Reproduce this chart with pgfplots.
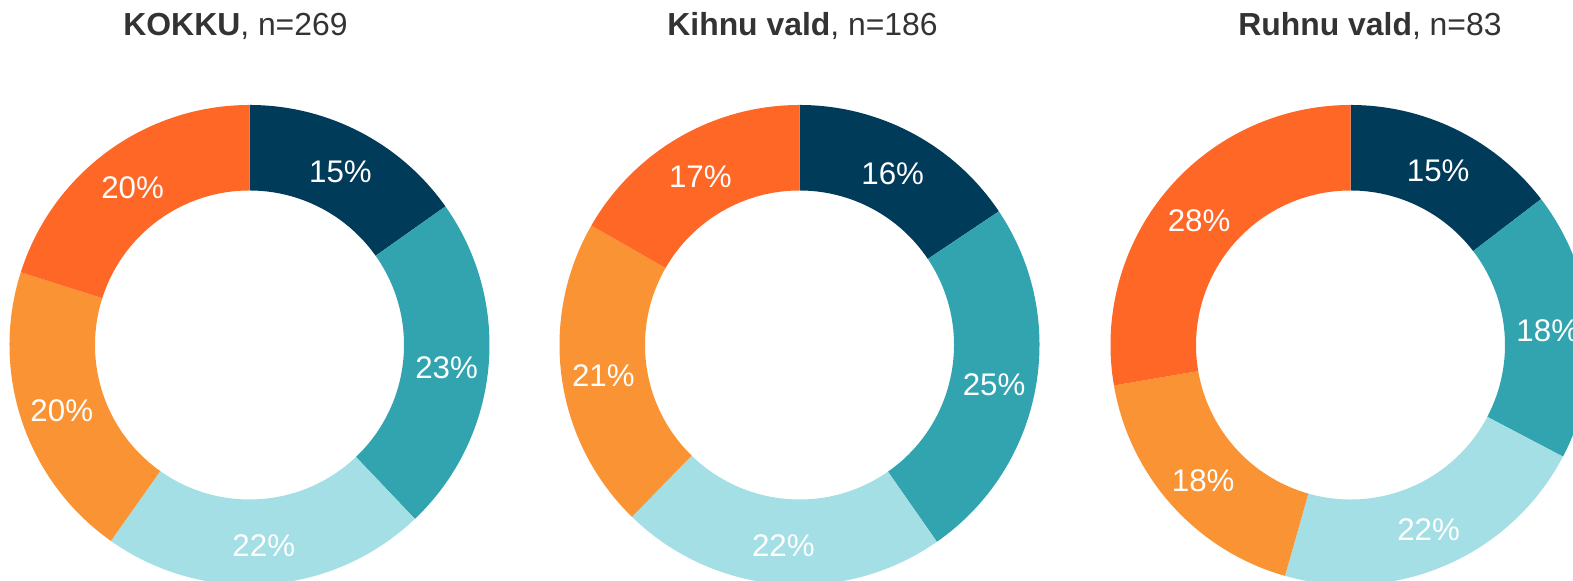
\documentclass[border=0pt]{standalone}
\usepackage{pgfplots}
\pgfplotsset{compat=1.18}
\usepackage{pgfplotstable}
\usepackage{fontspec}
\setmainfont{Liberation Sans}
\definecolor{seg0}{HTML}{003B5A}
\definecolor{seg1}{HTML}{32A4AF}
\definecolor{seg2}{HTML}{A4DFE6}
\definecolor{seg3}{HTML}{FA9334}
\definecolor{seg4}{HTML}{FF6727}
\definecolor{titlecol}{HTML}{333333}

\pgfplotstableread{
seg kokku kihnu ruhnu
0   15.2  15.6  14.6
1   22.7  24.7  18.1
2   21.9  22.0  21.7
3   20.1  21.0  17.9
4   20.1  16.7  27.7
}\data

\newcommand\donutcmds{}
\newcommand\donutlabels{}
\newcommand\makedonut[3]{%
  \def\cum{0}%
  \pgfplotsforeachungrouped \i in {0,...,4}{%
    \pgfplotstablegetelem{\i}{#1}\of\data
    \let\val\pgfplotsretval
    \pgfmathsetmacro\aone{90-3.6*\cum}%
    \pgfmathsetmacro\newcum{\cum+\val}%
    \pgfmathsetmacro\atwo{90-3.6*\newcum}%
    \pgfmathsetmacro\amid{(\aone+\atwo)/2}%
    \pgfmathtruncatemacro\pct{round(\val)}%
    \let\cum\newcum
    \edef\colname{seg\i}%
    \xdef\donutcmds{\unexpanded\expandafter{\donutcmds}%
      \noexpand\fill[\colname] (axis cs:#2,#3) ++(\aone:120bp) arc[start angle=\aone,end angle=\atwo,radius=120bp] -- ++(\atwo:-42.75bp) arc[start angle=\atwo,end angle=\aone,radius=77.25bp] -- cycle;}%
    \xdef\donutlabels{\unexpanded\expandafter{\donutlabels}%
      \noexpand\path (axis cs:#2,#3) ++(\amid:99bp) node[text=white,inner sep=0pt,yshift=-1.5bp,font=\noexpand\fontsize{15.7}{18}\noexpand\selectfont] {\pct\noexpand\%};}%
  }%
}
\makedonut{kokku}{249.5}{-345}
\makedonut{kihnu}{799.5}{-345}
\makedonut{ruhnu}{1350.5}{-345}

\begin{document}
\begin{tikzpicture}
\begin{axis}[x=0.5bp,y=0.5bp,xmin=0,xmax=1573,ymin=-581,ymax=0,hide axis,clip=true]
\addplot[draw=none] coordinates {(0,0)};
\donutcmds
\donutlabels
\node[anchor=base,text=titlecol,inner sep=0pt,font=\fontsize{16}{19}\selectfont] at (axis cs:235.5,-36) {\textbf{KOKKU}, n=269};
\node[anchor=base,text=titlecol,inner sep=0pt,font=\fontsize{16}{19}\selectfont] at (axis cs:802.5,-36) {\textbf{Kihnu vald}, n=186};
\node[anchor=base,text=titlecol,inner sep=0pt,font=\fontsize{16}{19}\selectfont] at (axis cs:1370,-36) {\textbf{Ruhnu vald}, n=83};
\end{axis}
\pgfresetboundingbox
\path[use as bounding box] (current axis.south west) rectangle (current axis.north east);
\end{tikzpicture}
\end{document}
